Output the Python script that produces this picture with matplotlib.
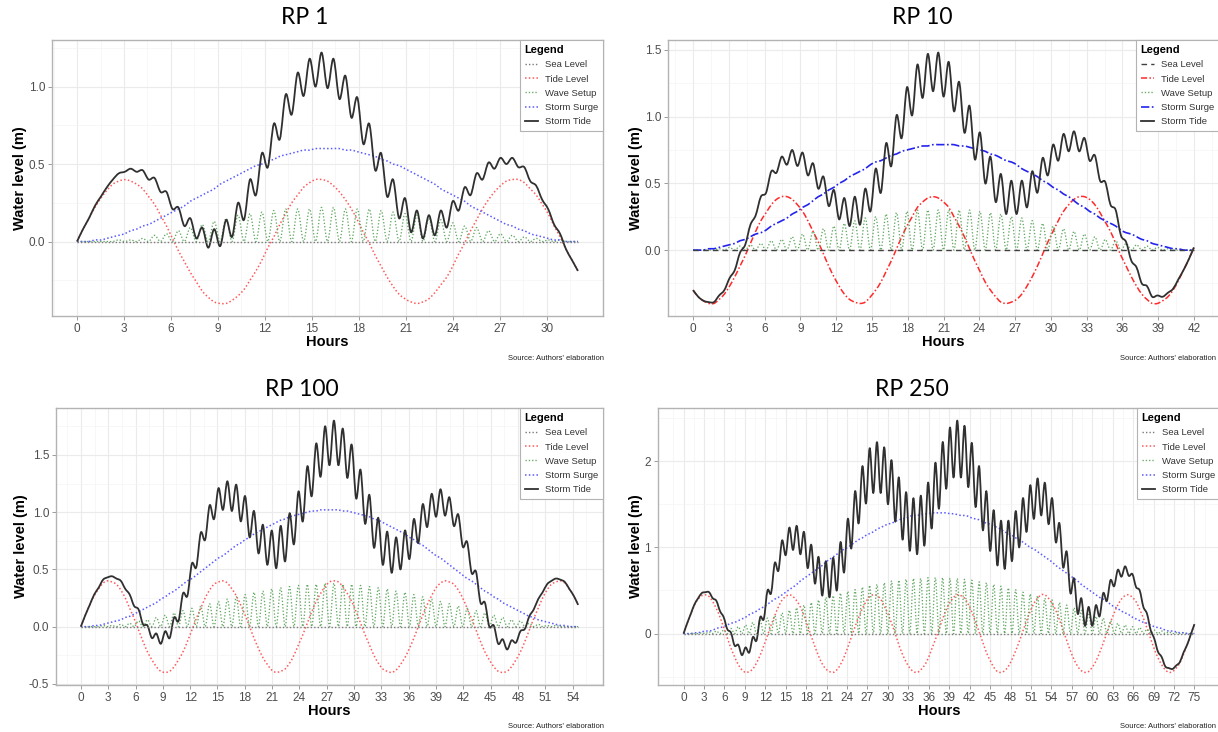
import numpy as np
import matplotlib.pyplot as plt
from matplotlib.lines import Line2D
from matplotlib.path import Path
from matplotlib.patches import PathPatch

plt.rcParams['font.family'] = ['Liberation Sans', 'DejaVu Sans']

# Values read off the picture. Each panel is sampled every half period of the
# wave setup oscillation, from hour 0 to the end hour (troughs of the wave
# setup on even samples, crests on odd samples).
sea_level = 0.0

# RP 1
rp1_end = 32.0
rp1_tide = [0.00, 0.08, 0.15, 0.22, 0.28, 0.33, 0.37, 0.39, 0.40, 0.39,
            0.37, 0.34, 0.29, 0.24, 0.17, 0.10, 0.02, -0.06, -0.13, -0.20,
            -0.26, -0.32, -0.36, -0.39, -0.40, -0.40, -0.38, -0.35, -0.31, -0.25,
            -0.19, -0.12, -0.04, 0.03, 0.11, 0.18, 0.25, 0.30, 0.35, 0.38,
            0.40, 0.40, 0.39, 0.36, 0.32, 0.27, 0.21, 0.14, 0.06, -0.01,
            -0.09, -0.16, -0.23, -0.29, -0.34, -0.37, -0.39, -0.40, -0.39, -0.37,
            -0.33, -0.28, -0.23, -0.16, -0.08, -0.01, 0.07, 0.14, 0.21, 0.27,
            0.32, 0.36, 0.39, 0.40, 0.40, 0.38, 0.34, 0.30, 0.24, 0.18,
            0.10, 0.03, -0.05, -0.12, -0.19]
rp1_surge = [0.00, 0.00, 0.00, 0.01, 0.01, 0.02, 0.03, 0.04, 0.05, 0.07,
             0.08, 0.10, 0.11, 0.13, 0.15, 0.17, 0.19, 0.21, 0.23, 0.26,
             0.28, 0.30, 0.32, 0.34, 0.37, 0.39, 0.41, 0.43, 0.45, 0.47,
             0.49, 0.50, 0.52, 0.53, 0.55, 0.56, 0.57, 0.58, 0.59, 0.59,
             0.60, 0.60, 0.60, 0.60, 0.60, 0.59, 0.59, 0.58, 0.57, 0.56,
             0.55, 0.53, 0.52, 0.50, 0.49, 0.47, 0.45, 0.43, 0.41, 0.39,
             0.37, 0.34, 0.32, 0.30, 0.28, 0.26, 0.23, 0.21, 0.19, 0.17,
             0.15, 0.13, 0.11, 0.10, 0.08, 0.07, 0.05, 0.04, 0.03, 0.02,
             0.01, 0.01, 0.00, 0.00, 0.00]
rp1_wave_peaks = [0.00, 0.00, 0.00, 0.01, 0.01, 0.02, 0.04, 0.05, 0.07, 0.09,
                  0.11, 0.13, 0.15, 0.17, 0.18, 0.19, 0.20, 0.21, 0.21, 0.21,
                  0.22, 0.22, 0.21, 0.21, 0.21, 0.20, 0.19, 0.18, 0.17, 0.15,
                  0.14, 0.12, 0.10, 0.09, 0.07, 0.05, 0.04, 0.03, 0.02, 0.01,
                  0.01, 0.00]
rp1_yticks = [0.0, 0.5, 1.0]
rp1_yminor = [-0.25, 0.25, 0.75, 1.25]

# RP 10
rp10_end = 42.0
rp10_tide = [-0.30, -0.35, -0.38, -0.40, -0.40, -0.37, -0.33, -0.27, -0.20, -0.12,
             -0.04, 0.05, 0.14, 0.22, 0.28, 0.34, 0.38, 0.40, 0.40, 0.38,
             0.34, 0.29, 0.22, 0.14, 0.06, -0.03, -0.12, -0.20, -0.27, -0.33,
             -0.37, -0.39, -0.40, -0.39, -0.35, -0.30, -0.24, -0.16, -0.08, 0.01,
             0.10, 0.18, 0.25, 0.32, 0.36, 0.39, 0.40, 0.39, 0.36, 0.32,
             0.25, 0.18, 0.10, 0.01, -0.08, -0.16, -0.24, -0.30, -0.35, -0.39,
             -0.40, -0.39, -0.37, -0.33, -0.27, -0.20, -0.12, -0.03, 0.06, 0.14,
             0.22, 0.29, 0.34, 0.38, 0.40, 0.40, 0.38, 0.34, 0.28, 0.21,
             0.14, 0.05, -0.04, -0.12, -0.20, -0.27, -0.33, -0.37, -0.40, -0.40,
             -0.38, -0.35, -0.30, -0.23, -0.15, -0.07, 0.02]
rp10_surge = [0.00, 0.00, 0.00, 0.01, 0.01, 0.02, 0.03, 0.04, 0.05, 0.07,
              0.08, 0.10, 0.12, 0.13, 0.15, 0.18, 0.20, 0.22, 0.24, 0.27,
              0.29, 0.32, 0.34, 0.37, 0.40, 0.42, 0.45, 0.47, 0.50, 0.52,
              0.55, 0.57, 0.59, 0.61, 0.64, 0.66, 0.67, 0.69, 0.71, 0.72,
              0.74, 0.75, 0.76, 0.77, 0.78, 0.78, 0.79, 0.79, 0.79, 0.79,
              0.79, 0.78, 0.78, 0.77, 0.76, 0.75, 0.74, 0.72, 0.71, 0.69,
              0.67, 0.66, 0.64, 0.61, 0.59, 0.57, 0.55, 0.52, 0.50, 0.47,
              0.45, 0.42, 0.40, 0.37, 0.34, 0.32, 0.29, 0.27, 0.24, 0.22,
              0.20, 0.18, 0.15, 0.13, 0.12, 0.10, 0.08, 0.07, 0.05, 0.04,
              0.03, 0.02, 0.01, 0.01, 0.00, 0.00, 0.00]
rp10_wave_peaks = [0.00, 0.00, 0.01, 0.02, 0.03, 0.04, 0.05, 0.07, 0.08, 0.10,
                   0.12, 0.14, 0.16, 0.18, 0.20, 0.22, 0.24, 0.25, 0.27, 0.28,
                   0.29, 0.30, 0.30, 0.30, 0.30, 0.30, 0.30, 0.29, 0.28, 0.27,
                   0.25, 0.24, 0.22, 0.20, 0.18, 0.16, 0.14, 0.12, 0.10, 0.08,
                   0.07, 0.05, 0.04, 0.03, 0.02, 0.01, 0.00, 0.00]
rp10_yticks = [0.0, 0.5, 1.0, 1.5]
rp10_yminor = [-0.25, 0.25, 0.75, 1.25]

# RP 100
rp100_end = 54.6
rp100_tide = [0.00, 0.10, 0.19, 0.27, 0.33, 0.38, 0.40, 0.39, 0.37, 0.32,
              0.25, 0.16, 0.07, -0.03, -0.13, -0.22, -0.29, -0.35, -0.39, -0.40,
              -0.39, -0.35, -0.29, -0.22, -0.13, -0.03, 0.07, 0.16, 0.25, 0.32,
              0.37, 0.39, 0.40, 0.38, 0.33, 0.27, 0.19, 0.10, 0.00, -0.10,
              -0.19, -0.27, -0.33, -0.38, -0.40, -0.39, -0.37, -0.32, -0.25, -0.16,
              -0.07, 0.03, 0.13, 0.22, 0.29, 0.35, 0.39, 0.40, 0.39, 0.35,
              0.29, 0.22, 0.13, 0.03, -0.07, -0.16, -0.25, -0.32, -0.37, -0.39,
              -0.40, -0.38, -0.33, -0.27, -0.19, -0.10, 0.00, 0.10, 0.19, 0.27,
              0.34, 0.38, 0.40, 0.39, 0.37, 0.32, 0.25, 0.16, 0.07, -0.03,
              -0.13, -0.22, -0.29, -0.35, -0.39, -0.40, -0.39, -0.35, -0.29, -0.22,
              -0.13, -0.03, 0.07, 0.16, 0.25, 0.32, 0.37, 0.39, 0.40, 0.38,
              0.33, 0.27, 0.19]
rp100_surge = [0.00, 0.00, 0.00, 0.01, 0.01, 0.02, 0.03, 0.04, 0.05, 0.06,
               0.08, 0.09, 0.11, 0.13, 0.15, 0.17, 0.19, 0.21, 0.24, 0.26,
               0.29, 0.31, 0.34, 0.37, 0.40, 0.42, 0.45, 0.48, 0.51, 0.54,
               0.57, 0.60, 0.62, 0.65, 0.68, 0.71, 0.73, 0.76, 0.78, 0.81,
               0.83, 0.85, 0.87, 0.89, 0.91, 0.93, 0.94, 0.96, 0.97, 0.98,
               0.99, 1.00, 1.01, 1.01, 1.02, 1.02, 1.02, 1.02, 1.02, 1.01,
               1.01, 1.00, 0.99, 0.98, 0.97, 0.96, 0.94, 0.93, 0.91, 0.89,
               0.87, 0.85, 0.83, 0.81, 0.78, 0.76, 0.73, 0.71, 0.68, 0.65,
               0.62, 0.60, 0.57, 0.54, 0.51, 0.48, 0.45, 0.42, 0.40, 0.37,
               0.34, 0.31, 0.29, 0.26, 0.24, 0.21, 0.19, 0.17, 0.15, 0.13,
               0.11, 0.09, 0.08, 0.06, 0.05, 0.04, 0.03, 0.02, 0.01, 0.01,
               0.00, 0.00, 0.00]
rp100_wave_peaks = [0.00, 0.00, 0.01, 0.01, 0.02, 0.03, 0.05, 0.06, 0.08, 0.10,
                    0.12, 0.14, 0.16, 0.18, 0.20, 0.22, 0.24, 0.26, 0.28, 0.30,
                    0.31, 0.33, 0.34, 0.35, 0.36, 0.37, 0.37, 0.38, 0.38, 0.37,
                    0.37, 0.36, 0.35, 0.34, 0.33, 0.31, 0.30, 0.28, 0.26, 0.24,
                    0.22, 0.20, 0.18, 0.16, 0.14, 0.12, 0.10, 0.08, 0.06, 0.05,
                    0.03, 0.02, 0.01, 0.01, 0.00, 0.00]
rp100_yticks = [-0.5, 0.0, 0.5, 1.0, 1.5]
rp100_yminor = [-0.25, 0.25, 0.75, 1.25, 1.75]

# RP 250
rp250_end = 75.0
rp250_tide = [0.00, 0.12, 0.23, 0.33, 0.40, 0.44, 0.45, 0.43, 0.37, 0.29,
              0.19, 0.07, -0.05, -0.17, -0.27, -0.36, -0.42, -0.45, -0.44, -0.41,
              -0.34, -0.25, -0.14, -0.02, 0.10, 0.21, 0.31, 0.39, 0.43, 0.45,
              0.43, 0.38, 0.31, 0.21, 0.09, -0.03, -0.15, -0.26, -0.35, -0.41,
              -0.44, -0.45, -0.42, -0.36, -0.27, -0.16, -0.04, 0.08, 0.19, 0.29,
              0.37, 0.43, 0.45, 0.44, 0.40, 0.32, 0.23, 0.12, 0.00, -0.13,
              -0.24, -0.33, -0.40, -0.44, -0.45, -0.42, -0.37, -0.29, -0.18, -0.07,
              0.05, 0.17, 0.28, 0.36, 0.42, 0.45, 0.44, 0.41, 0.34, 0.25,
              0.14, 0.02, -0.10, -0.22, -0.31, -0.39, -0.44, -0.45, -0.43, -0.38,
              -0.30, -0.20, -0.09, 0.03, 0.15, 0.26, 0.35, 0.41, 0.45, 0.45,
              0.41, 0.35, 0.27, 0.16, 0.04, -0.08, -0.20, -0.30, -0.38, -0.43,
              -0.45, -0.44, -0.39, -0.32, -0.22, -0.11, 0.01, 0.13, 0.24, 0.33,
              0.40, 0.44, 0.45, 0.42, 0.37, 0.28, 0.18, 0.06, -0.06, -0.18,
              -0.28, -0.36, -0.42, -0.45, -0.44, -0.40, -0.34, -0.24, -0.13, -0.01,
              0.11]
rp250_surge = [0.00, 0.00, 0.00, 0.01, 0.01, 0.02, 0.03, 0.03, 0.04, 0.06,
               0.07, 0.08, 0.10, 0.12, 0.13, 0.15, 0.17, 0.19, 0.22, 0.24,
               0.26, 0.29, 0.31, 0.34, 0.37, 0.40, 0.42, 0.45, 0.48, 0.51,
               0.54, 0.57, 0.61, 0.64, 0.67, 0.70, 0.73, 0.76, 0.79, 0.83,
               0.86, 0.89, 0.92, 0.95, 0.98, 1.00, 1.03, 1.06, 1.09, 1.11,
               1.14, 1.16, 1.18, 1.21, 1.23, 1.25, 1.27, 1.28, 1.30, 1.32,
               1.33, 1.34, 1.36, 1.37, 1.37, 1.38, 1.39, 1.39, 1.40, 1.40,
               1.40, 1.40, 1.40, 1.39, 1.39, 1.38, 1.37, 1.37, 1.36, 1.34,
               1.33, 1.32, 1.30, 1.28, 1.27, 1.25, 1.23, 1.21, 1.18, 1.16,
               1.14, 1.11, 1.09, 1.06, 1.03, 1.00, 0.98, 0.95, 0.92, 0.89,
               0.86, 0.83, 0.79, 0.76, 0.73, 0.70, 0.67, 0.64, 0.61, 0.57,
               0.54, 0.51, 0.48, 0.45, 0.42, 0.40, 0.37, 0.34, 0.31, 0.29,
               0.26, 0.24, 0.22, 0.19, 0.17, 0.15, 0.13, 0.12, 0.10, 0.08,
               0.07, 0.06, 0.04, 0.03, 0.03, 0.02, 0.01, 0.01, 0.00, 0.00,
               0.00]
rp250_wave_peaks = [0.00, 0.00, 0.01, 0.02, 0.03, 0.04, 0.06, 0.08, 0.10, 0.13,
                    0.15, 0.18, 0.21, 0.24, 0.27, 0.30, 0.33, 0.36, 0.39, 0.42,
                    0.44, 0.47, 0.49, 0.51, 0.54, 0.56, 0.57, 0.59, 0.61, 0.62,
                    0.63, 0.64, 0.64, 0.65, 0.65, 0.65, 0.64, 0.64, 0.63, 0.62,
                    0.60, 0.59, 0.57, 0.55, 0.53, 0.51, 0.48, 0.46, 0.44, 0.41,
                    0.39, 0.36, 0.33, 0.30, 0.27, 0.24, 0.20, 0.18, 0.15, 0.12,
                    0.10, 0.08, 0.07, 0.05, 0.04, 0.03, 0.02, 0.01, 0.01, 0.00]
rp250_yticks = [0, 1, 2]
rp250_yminor = [-0.5, 0.5, 1.5, 2.5]

legend_labels = ['Sea Level', 'Tide Level', 'Wave Setup', 'Storm Surge', 'Storm Tide']
source_text = "Source: Authors' elaboration"

# ---- styles ----
dot = (0, (1, 1.5))
dotted_style = {
    'sea': dict(color='#7a7a7a', lw=1.0, ls=dot),
    'tide': dict(color='#ff5a5a', lw=1.1, ls=dot),
    'wave': dict(color='#62a862', lw=0.95, ls=dot),
    'surge': dict(color='#5a5aff', lw=1.1, ls=dot),
    'storm': dict(color='#303030', lw=1.3, ls='-'),
}
mixed_style = {
    'sea': dict(color='#404040', lw=1.0, ls=(0, (4, 3))),
    'tide': dict(color='#ff2a2a', lw=1.1, ls=(0, (4, 1.5, 1, 1.5))),
    'wave': dict(color='#62a862', lw=0.95, ls=dot),
    'surge': dict(color='#2424ee', lw=1.2, ls=(0, (5, 1.5, 1, 1.5))),
    'storm': dict(color='#303030', lw=1.3, ls='-'),
}

# pixel boxes (left, top, right, bottom) of the panels in the 1218x732 picture
panels = [
    dict(title='RP 1', title_xy=(305, 18), box=(52, 40, 603, 316), ylab_x=20, src_x=604,
         end=rp1_end, tide=rp1_tide, surge=rp1_surge, peaks=rp1_wave_peaks,
         yticks=rp1_yticks, yminor=rp1_yminor, fmt='{:.1f}', style=dotted_style),
    dict(title='RP 10', title_xy=(922, 18), box=(668, 40, 1219, 316), ylab_x=636, src_x=1216,
         end=rp10_end, tide=rp10_tide, surge=rp10_surge, peaks=rp10_wave_peaks,
         yticks=rp10_yticks, yminor=rp10_yminor, fmt='{:.1f}', style=mixed_style),
    dict(title='RP 100', title_xy=(302, 389), box=(56, 408, 603, 685), ylab_x=21, src_x=604,
         end=rp100_end, tide=rp100_tide, surge=rp100_surge, peaks=rp100_wave_peaks,
         yticks=rp100_yticks, yminor=rp100_yminor, fmt='{:.1f}', style=dotted_style),
    dict(title='RP 250', title_xy=(912, 389), box=(658, 408, 1220, 685), ylab_x=636, src_x=1216,
         end=rp250_end, tide=rp250_tide, surge=rp250_surge, peaks=rp250_wave_peaks,
         yticks=rp250_yticks, yminor=rp250_yminor, fmt='{:d}', style=dotted_style),
]

W, H = 1218, 732
fig = plt.figure(figsize=(W / 100, H / 100), dpi=100)
fig.patch.set_facecolor('white')


def px(x, y):
    return x / W, 1 - y / H


def smooth_line(ax, x, y, color, lw, ls):
    # draw the sampled series as a smooth curve through every point
    # (cubic Bezier segments with Catmull-Rom tangents)
    pts = np.column_stack([x, y])
    tang = np.gradient(pts, axis=0)
    verts = [pts[0]]
    codes = [Path.MOVETO]
    for i in range(len(pts) - 1):
        verts += [pts[i] + tang[i] / 3, pts[i + 1] - tang[i + 1] / 3, pts[i + 1]]
        codes += [Path.CURVE4] * 3
    ax.add_patch(PathPatch(Path(verts, codes), fill=False, edgecolor=color,
                           lw=lw, ls=ls, joinstyle='round'))


for p in panels:
    l, t, r, b = p['box']
    ax = fig.add_axes([l / W, 1 - b / H, (r - l) / W, (b - t) / H])
    st = p['style']

    tide = np.array(p['tide'])
    surge = np.array(p['surge'])
    hours = np.linspace(0, p['end'], len(tide))
    wave = np.zeros(len(tide))
    wave[1::2] = p['peaks']
    storm = sea_level + tide + surge + wave

    ax.plot([0, p['end']], [sea_level, sea_level], **st['sea'])
    smooth_line(ax, hours, tide, **st['tide'])
    smooth_line(ax, hours, wave, **st['wave'])
    smooth_line(ax, hours, surge, **st['surge'])
    smooth_line(ax, hours, storm, **st['storm'])

    # ggplot-like 5% expansion
    lo = min(tide.min(), storm.min(), sea_level)
    hi = max(storm.max(), surge.max())
    pad = 0.05 * (hi - lo)
    ax.set_ylim(lo - pad, hi + pad)
    ax.set_xlim(-0.05 * p['end'], 1.05 * p['end'])

    xt = np.arange(0, p['end'] + 0.01, 3)
    ax.set_xticks(xt)
    ax.set_xticklabels([str(int(v)) for v in xt])
    ax.set_xticks(np.arange(-1.5, 1.05 * p['end'], 3), minor=True)
    ax.set_yticks(p['yticks'])
    ax.set_yticklabels([p['fmt'].format(v) for v in p['yticks']])
    ax.set_yticks(p['yminor'], minor=True)

    ax.grid(which='major', color='#ebebeb', lw=0.8)
    ax.grid(which='minor', color='#f4f4f4', lw=0.5)
    ax.set_axisbelow(True)
    for s in ax.spines.values():
        s.set_color('#b3b3b3')
        s.set_linewidth(1.0)
    ax.tick_params(which='major', length=3, width=0.6, color='#8c8c8c',
                   labelsize=8.5, labelcolor='#4d4d4d', pad=2)
    ax.tick_params(which='minor', length=0)

    handles = [Line2D([], [], **st[k]) for k in ['sea', 'tide', 'wave', 'surge', 'storm']]
    leg = ax.legend(handles, legend_labels, loc='upper right', bbox_to_anchor=(1, 1),
                    borderaxespad=0, fancybox=False, framealpha=1, edgecolor='#b3b3b3',
                    fontsize=6.8, title='Legend', alignment='left',
                    title_fontproperties={'weight': 'bold', 'size': 8},
                    handlelength=1.4, handletextpad=0.7, labelspacing=0.55,
                    borderpad=0.55)
    leg.get_frame().set_linewidth(0.8)
    for txt in leg.get_texts():
        txt.set_color('#333333')

    cx = (l + r) / 2
    cy = (t + b) / 2
    fig.text(*px(p['ylab_x'], cy), 'Water level (m)', rotation=90, ha='center',
             va='center', fontsize=10.5, fontweight='bold')
    fig.text(*px(cx, b + 26), 'Hours', ha='center', va='center',
             fontsize=10.5, fontweight='bold')
    fig.text(*px(p['src_x'], b + 42), source_text, ha='right', va='center',
             fontsize=5.5, color='#222222')
    fig.text(*px(*p['title_xy']), p['title'], ha='center', va='center',
             fontsize=16.5, family=['Lato', 'DejaVu Sans'])

fig.savefig('out.png', dpi=100, facecolor='white')
